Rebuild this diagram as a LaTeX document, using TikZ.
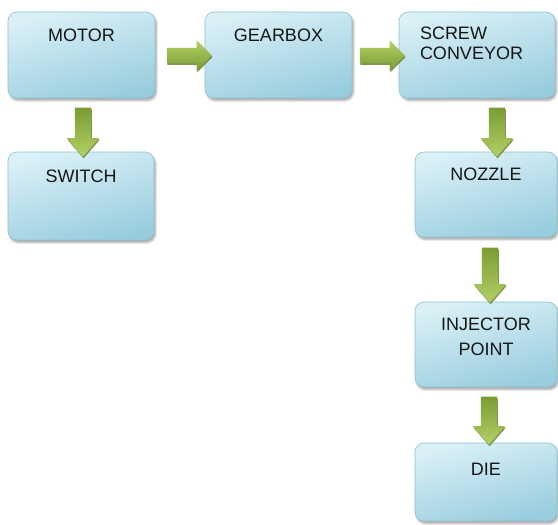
\documentclass[tikz,border=0pt]{standalone}
\usepackage{fontspec}
\setmainfont{Liberation Sans}
\usetikzlibrary{shapes.arrows,shadows,shadows.blur,calc}
\definecolor{boxtop}{HTML}{DAF0F6}
\definecolor{boxbot}{HTML}{98CDDE}
\definecolor{boxedge}{HTML}{8CC2D3}
\definecolor{arlight}{HTML}{B2D166}
\definecolor{ardark}{HTML}{7A9C33}
\definecolor{arshadow}{HTML}{5E7A25}
\definecolor{txt}{HTML}{161616}
\newcommand{\bxt}[4]{\parbox[c][#1][t]{#2}{\vspace*{#3}#4}}
\tikzset{
  procbox/.style={draw=boxedge, line width=0.6pt, rounded corners=9pt,
    top color=boxtop, bottom color=boxbot, shading angle=15,
    inner sep=0pt, text=txt, font=\fontsize{18}{20}\selectfont,
    blur shadow={shadow xshift=1.5pt, shadow yshift=-2.5pt, shadow blur steps=6, shadow opacity=35}},
  harrow/.style={single arrow, inner xsep=0pt, inner ysep=7.5pt, minimum height=45pt,
    single arrow head extend=7.5pt, single arrow tip angle=90,
    top color=arlight, bottom color=ardark,
    drop shadow={shadow xshift=0.6pt, shadow yshift=-1.6pt, fill=arshadow, opacity=0.8}},
  varrow/.style={single arrow, inner xsep=0pt, inner ysep=8pt,
    single arrow head extend=8pt, single arrow tip angle=82, rotate=-90,
    top color=ardark, bottom color=arlight,
    drop shadow={shadow xshift=0.6pt, shadow yshift=-1.6pt, fill=arshadow, opacity=0.8}}
}
\begin{document}
\begin{tikzpicture}[x=1pt,y=-1pt]
\useasboundingbox (0,0) rectangle (558,525);
% boxes
\node[procbox, minimum width=147pt, minimum height=86pt] (motor) at (81.5,55)
  {\bxt{86pt}{147pt}{17pt}{\centering MOTOR}};
\node[procbox, minimum width=147pt, minimum height=86pt] (gearbox) at (278.5,55)
  {\bxt{86pt}{147pt}{17pt}{\centering GEARBOX}};
\node[procbox, minimum width=156pt, minimum height=86pt] (screw) at (477,55)
  {\bxt{86pt}{156pt}{15pt}{\raggedright\leftskip=21pt SCREW\\CONVEYOR}};
\node[procbox, minimum width=146pt, minimum height=88pt] (switch) at (81,196)
  {\bxt{88pt}{146pt}{18pt}{\centering SWITCH}};
\node[procbox, minimum width=142pt, minimum height=85pt] (nozzle) at (486,194.5)
  {\bxt{85pt}{142pt}{16pt}{\centering NOZZLE}};
\node[procbox, minimum width=142pt, minimum height=85pt] (injector) at (486,344.5)
  {\bxt{85pt}{142pt}{16pt}{\centering INJECTOR\\[5pt]POINT}};
\node[procbox, minimum width=142pt, minimum height=78pt] (die) at (486,482)
  {\bxt{78pt}{142pt}{20pt}{\centering DIE}};
% block arrows
\node[harrow] (a1) at ($(motor.east)!.5!(gearbox.west)+(5.5,0.5)$) {};
\node[harrow] (a2) at ($(gearbox.east)!.5!(screw.west)+(3,0.5)$) {};
\node[varrow, minimum height=49pt] (a3) at ($(motor.south)!.5!(switch.north)+(1.75,2.5)$) {};
\node[varrow, minimum height=49pt] (a4) at ($(nozzle.north)!.5!(nozzle.north|-screw.south)+(11,2.5)$) {};
\node[varrow, minimum height=55pt] (a5) at ($(nozzle.south)!.5!(injector.north)+(4,1)$) {};
\node[varrow, minimum height=48pt] (a6) at ($(injector.south)!.5!(die.north)+(3,1)$) {};
\end{tikzpicture}
\end{document}
